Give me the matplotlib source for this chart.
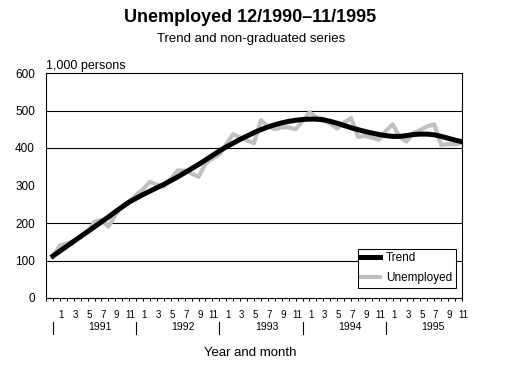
import matplotlib
matplotlib.use('Agg')
import matplotlib.pyplot as plt
from matplotlib.lines import Line2D
from matplotlib.transforms import blended_transform_factory

plt.rcParams['font.family'] = ['Liberation Sans', 'DejaVu Sans']

# monthly values 12/1990 .. 11/1995, 1,000 persons
trend = [112, 125, 138, 151, 164, 177, 190, 203, 216, 230, 243, 256,
         266, 276, 285, 294, 303, 313, 323, 334, 345, 356, 368, 380,
         392, 403, 413, 423, 432, 441, 449, 456, 462, 467, 471, 474,
         476, 477, 477, 475, 471, 466, 460, 454, 449, 444, 440, 436,
         433, 431, 431, 433, 436, 437, 437, 435, 431, 426, 421, 417]
unemployed = [110, 140, 145, 152, 165, 175, 203, 208, 190, 222, 245, 257,
              275, 290, 310, 302, 297, 318, 340, 340, 332, 323, 358, 372,
              382, 410, 437, 428, 420, 413, 474, 458, 450, 455, 455, 450,
              472, 495, 482, 478, 465, 452, 468, 480, 430, 432, 428, 422,
              445, 463, 430, 417, 440, 448, 458, 463, 408, 410, 410, 413]
years = ['1991', '1992', '1993', '1994', '1995']
y_ticks = [0, 100, 200, 300, 400, 500, 600]
grid_levels = [100, 200, 400, 500]

W, H = 510, 367
fig = plt.figure(figsize=(W / 100, H / 100), dpi=100)
ax = fig.add_axes([46 / W, 69 / H, 416 / W, 225 / H])

pos = list(range(1, len(trend) + 1))
ax.plot(pos, unemployed, color='#c0c0c0', lw=3, label='Unemployed', zorder=2)
ax.plot(pos, trend, color='black', lw=3.6, label='Trend', zorder=3)
for g in grid_levels:
    ax.axhline(g, color='black', lw=0.8, zorder=1)

ax.set_xlim(0, 60)
ax.set_ylim(0, 600)
ax.set_yticks(y_ticks)
ax.tick_params(axis='y', length=0, pad=8, labelsize=8.5)
ax.set_xticks(range(61))
ax.set_xticklabels([])
ax.tick_params(axis='x', length=2.2, width=0.75, direction='out')
for s in ax.spines.values():
    s.set_linewidth(0.8)

trans = blended_transform_factory(ax.transData, fig.transFigure)
# month labels, every odd month
for k in range(1, len(trend)):
    m = (k - 1) % 12 + 1
    if m % 2 == 1:
        ax.text(k + 1.2, 1 - 315 / H, str(m), transform=trans, ha='center',
                va='center', fontsize=7)
for i, y in enumerate(years):
    ax.text(7.8 + 12 * i, 1 - 327.5 / H, y, transform=trans, ha='center',
            va='center', fontsize=7.5)
    fig.add_artist(Line2D([1 + 12 * i, 1 + 12 * i], [1 - 322 / H, 1 - 334 / H],
                          transform=trans, color='black', lw=0.8))

fig.text(250 / W, 1 - 18 / H, 'Unemployed 12/1990\u201311/1995', ha='center',
         va='center', fontsize=13, fontweight='bold')
fig.text(251 / W, 1 - 39 / H, 'Trend and non-graduated series', ha='center',
         va='center', fontsize=9.5)
fig.text(46 / W, 1 - 66 / H, '1,000 persons', ha='left', va='center', fontsize=9)
fig.text(250 / W, 1 - 352.5 / H, 'Year and month', ha='center', va='center',
         fontsize=9.5)

handles, labels = ax.get_legend_handles_labels()
leg = ax.legend(handles[::-1], labels[::-1], loc='lower right',
                bbox_to_anchor=(0.985, 0.045), frameon=True, fancybox=False,
                edgecolor='black', framealpha=1, fontsize=8.5, handlelength=1.6,
                handletextpad=0.5, borderpad=0.3, labelspacing=0.7,
                borderaxespad=0)
leg.get_frame().set_linewidth(0.75)

fig.savefig('out.png', dpi=100)
